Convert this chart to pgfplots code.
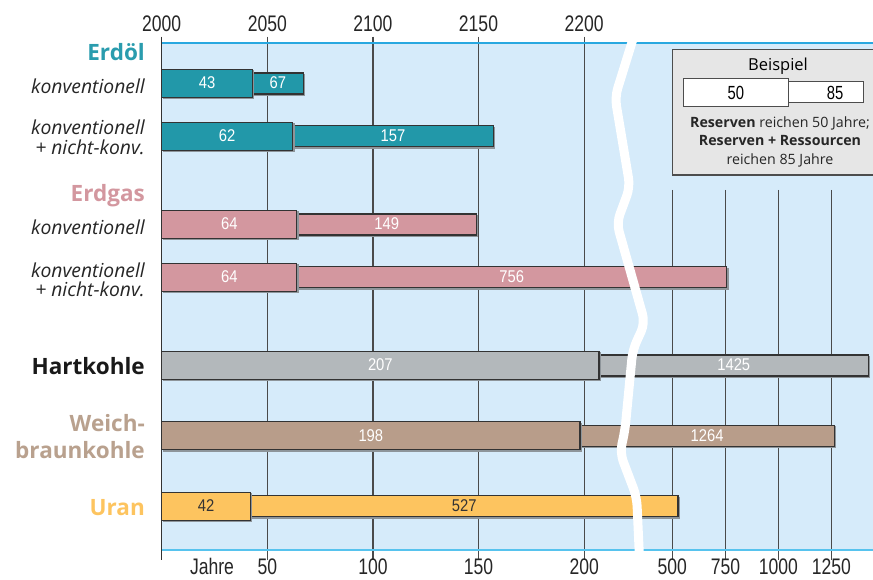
\documentclass[border=0pt]{standalone}
\usepackage{pgfplots}
\pgfplotsset{compat=1.18}
\usepackage{pgfplotstable}
\usepackage{fontspec}
\setmainfont{Open Sans}
\newfontfamily\tickfont[FakeStretch=0.78]{Liberation Sans}
\newfontfamily\barfont[FakeStretch=0.87]{Liberation Sans}

\definecolor{bgblue}{HTML}{D6EBFA}
\definecolor{topblue}{HTML}{29A8E0}
\definecolor{botblue}{HTML}{57C3EE}
\definecolor{gridc}{HTML}{4A4A4A}
\definecolor{edge}{HTML}{333333}
\definecolor{shade}{HTML}{8E959A}
\definecolor{oel}{HTML}{2298A9}
\definecolor{oeltxt}{HTML}{2A9CAE}
\definecolor{gas}{HTML}{D3979F}
\definecolor{hart}{HTML}{B3B8BB}
\definecolor{weich}{HTML}{B89D8A}
\definecolor{weichtxt}{HTML}{B9A18E}
\definecolor{uran}{HTML}{FDC45F}
\definecolor{legfill}{HTML}{E6E6E6}
\definecolor{legedge}{HTML}{4D4D4D}

% Years up to 250 on a linear scale, beyond the break compressed about 1:10
\newcommand{\brk}[1]{(((#1)<=250) ? (#1) : (191.5+0.1004*(#1)))}

% pos = vertical position of the bar, reserve / total = reach in years
\pgfplotstableread{
pos     reserve total
-83.5   43      67
-136.2  62      157
}\oeltab
\pgfplotstableread{
pos     reserve total
-224.5  64      149
-277.2  64      756
}\gastab
\pgfplotstableread{
pos     reserve total
-365.5  207     1425
}\harttab
\pgfplotstableread{
pos     reserve total
-435.7  198     1264
}\weichtab
\pgfplotstableread{
pos     reserve total
-506.3  42      527
}\urantab

\pgfplotsset{
  fuelbar/.style={xbar, bar shift=0pt, fill=#1, draw=edge, line width=1.1pt,
    preaction={fill=shade, draw=shade, transform canvas={shift={(1.4pt,-1.4pt)}}}},
  barlabel/.style={only marks, mark=text, text mark={},
    nodes near coords, point meta=explicit symbolic,
    nodes near coords style={anchor=center, inner sep=0pt, text=#1,
      font=\barfont\fontsize{17}{17}\selectfont}},
}

% one fuel: thin bar for reserves + resources, thick bar for reserves, both labelled
\newcommand{\fuel}[3]{%
  \addplot[fuelbar=#2, bar width=21]
    table[x expr={\brk{\thisrow{total}}}, y=pos] {#1};
  \addplot[fuelbar=#2, bar width=28]
    table[x expr={\brk{\thisrow{reserve}}}, y=pos] {#1};
  \addplot[barlabel=#3]
    table[x expr={\brk{\thisrow{reserve}}/2}, y expr={\thisrow{pos}+0.5}, meta=reserve] {#1};
  \addplot[barlabel=#3]
    table[x expr={(\brk{\thisrow{reserve}}+\brk{\thisrow{total}})/2}, y expr={\thisrow{pos}+0.5}, meta=total] {#1};
}

\begin{document}
\begin{tikzpicture}
\useasboundingbox (-161.7pt,-30pt) rectangle (711.3pt,550pt);
\begin{axis}[
  at={(0,0)}, anchor=south west,
  scale only axis, width=711.3pt, height=507pt,
  xmin=0, xmax=336.7, ymin=-550, ymax=-43,
  axis line style={draw=none},
  xtick=\empty, ytick=\empty,
  axis background/.style={fill=bgblue},
  clip=false,
]
% grid lines of the linear part
\draw[gridc, line width=1.1pt] (axis cs:50,-36.7) -- (axis cs:50,-560);
\draw[gridc, line width=1.1pt] (axis cs:100,-36.7) -- (axis cs:100,-560);
\draw[gridc, line width=1.1pt] (axis cs:150,-36.7) -- (axis cs:150,-560);
\draw[gridc, line width=1.1pt] (axis cs:200,-36.7) -- (axis cs:200,-560);
% grid lines beyond the break (500, 750, 1000, 1250 years)
\draw[gridc, line width=1.1pt] (axis cs:241.7,-190) -- (axis cs:241.7,-560);
\draw[gridc, line width=1.1pt] (axis cs:266.8,-190) -- (axis cs:266.8,-560);
\draw[gridc, line width=1.1pt] (axis cs:291.9,-190) -- (axis cs:291.9,-560);
\draw[gridc, line width=1.1pt] (axis cs:317.0,-190) -- (axis cs:317.0,-560);
\fuel{\oeltab}{oel}{white}
\fuel{\gastab}{gas}{white}
\fuel{\harttab}{hart}{white}
\fuel{\weichtab}{weich}{white}
\fuel{\urantab}{uran}{edge}
\end{axis}

\begin{scope}[x=1pt, y=-1pt, shift={(-161.7pt,550pt)}]
  % frame lines
  \draw[topblue, line width=1.3pt] (161.7,43) -- (873,43);
  \draw[botblue, line width=2pt] (161.7,550) -- (873,550);
  \draw[edge, line width=1.6pt] (161.7,36.7) -- (161.7,560);
  % axis break
  \draw[white, line width=9pt, rounded corners=9pt]
    (632.7,40) -- (615,97) -- (630,187) -- (616.7,223) -- (645,323)
    -- (632.7,350) -- (625,430) -- (620,453) -- (636.7,497) -- (639.3,554);
  % example box
  \filldraw[fill=legfill, draw=legedge, line width=1.3pt] (672.3,49.3) rectangle (876,175);
  \filldraw[fill=white, draw=legedge, line width=1.1pt] (788.3,81.7) rectangle (863.3,102.7);
  \filldraw[fill=white, draw=legedge, line width=1.1pt] (683.3,78.3) rectangle (788.3,106.7);
  \node[anchor=base, inner sep=0pt] at (778,70.5) {\fontsize{16.5}{18}\selectfont Beispiel};
  \node[anchor=center, inner sep=0pt] at (735.8,93) {\tickfont\fontsize{19}{19}\selectfont 50};
  \node[anchor=center, inner sep=0pt] at (835,92.5) {\tickfont\fontsize{19}{19}\selectfont 85};
  \begin{scope}[every node/.style={anchor=base, inner sep=0pt, text=black!85, font=\fontsize{14.2}{16}\selectfont}]
    \node at (780,127.3) {\textbf{Reserven} reichen 50 Jahre;};
    \node at (780,146) {\textbf{Reserven + Ressourcen}};
    \node at (780,164.5) {reichen 85 Jahre};
  \end{scope}
  % category labels
  \begin{scope}[every node/.style={anchor=base east, inner sep=0pt}]
    \node[text=oeltxt, font=\bfseries\fontsize{22.5}{24}\selectfont] at (145,61) {Erdöl};
    \node[font=\itshape\fontsize{19.3}{20}\selectfont, text=black!85] at (145,93.3) {konventionell};
    \node[font=\itshape\fontsize{19.3}{20}\selectfont, text=black!85] at (145,135) {konventionell};
    \node[font=\itshape\fontsize{19.3}{20}\selectfont, text=black!85] at (145,155) {+ nicht-konv.};
    \node[text=gas, font=\bfseries\fontsize{22.5}{24}\selectfont] at (145,201.7) {Erdgas};
    \node[font=\itshape\fontsize{19.3}{20}\selectfont, text=black!85] at (145,235) {konventionell};
    \node[font=\itshape\fontsize{19.3}{20}\selectfont, text=black!85] at (145,277.5) {konventionell};
    \node[font=\itshape\fontsize{19.3}{20}\selectfont, text=black!85] at (145,297) {+ nicht-konv.};
    \node[text=black!90, font=\bfseries\fontsize{22.5}{24}\selectfont] at (145,374.3) {Hartkohle};
    \node[text=weichtxt, font=\bfseries\fontsize{22.5}{24}\selectfont] at (145,431.7) {Weich-};
    \node[text=weichtxt, font=\bfseries\fontsize{22.5}{24}\selectfont] at (145,458.3) {braunkohle};
    \node[text=uran, font=\bfseries\fontsize{22.5}{24}\selectfont] at (145,516) {Uran};
  \end{scope}
  % tick labels: calendar years on top, years of reach below
  \begin{scope}[every node/.style={anchor=base, inner sep=0pt, text=black!85, font=\tickfont\fontsize{22.5}{24}\selectfont}]
    \node at (161.7,31.7) {2000};
    \node at (267.3,31.7) {2050};
    \node at (372.9,31.7) {2100};
    \node at (478.5,31.7) {2150};
    \node at (584.2,31.7) {2200};
    \node at (212,575) {Jahre};
    \node at (267.3,575) {50};
    \node at (372.9,575) {100};
    \node at (478.5,575) {150};
    \node at (584.2,575) {200};
    \node at (672.3,575) {500};
    \node at (725.4,575) {750};
    \node at (778.4,575) {1000};
    \node at (831.4,575) {1250};
  \end{scope}
\end{scope}
\end{tikzpicture}
\end{document}
